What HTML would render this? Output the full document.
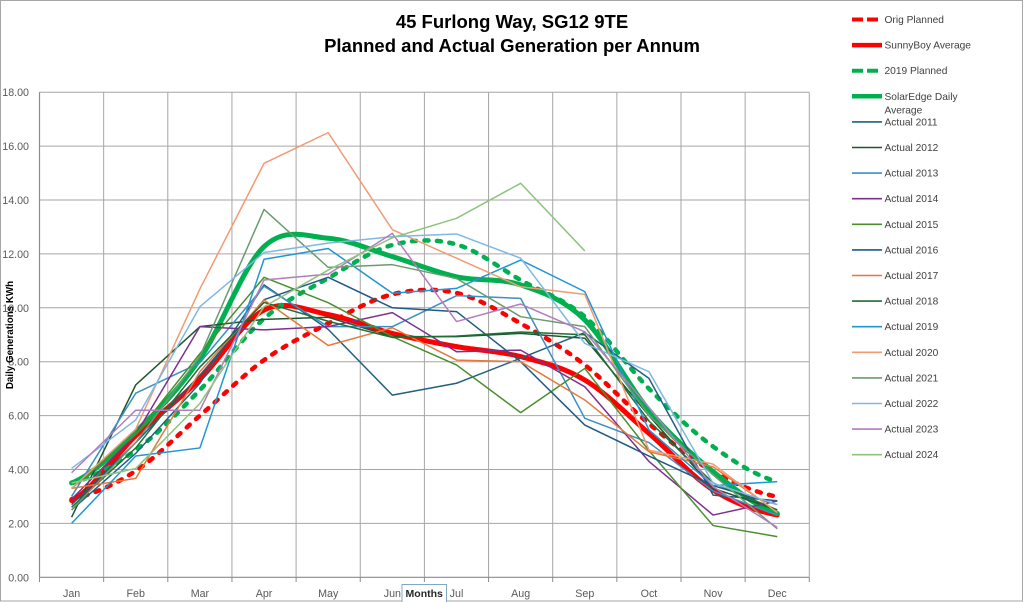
<!DOCTYPE html>
<html>
<head>
<meta charset="utf-8">
<style>
  html,body{margin:0;padding:0;background:#fff;}
  svg{display:block;}
  text{font-family:"Liberation Sans",Arial,sans-serif;}
</style>
</head>
<body>
<svg width="1024" height="602" viewBox="0 0 1024 602" xmlns="http://www.w3.org/2000/svg">
  <rect x="0" y="0" width="1024" height="602" fill="#fff"/>
  <rect x="0.5" y="0.5" width="1022" height="600.5" fill="none" stroke="#a6a6a6" stroke-width="1"/>

  <!-- Title -->
  <text x="512" y="28" text-anchor="middle" font-size="18.5" font-weight="bold" fill="#000">45 Furlong Way, SG12 9TE</text>
  <text x="512" y="52" text-anchor="middle" font-size="18.5" font-weight="bold" fill="#000">Planned and Actual Generation per Annum</text>

  <!-- Horizontal gridlines -->
  <g stroke="#a6a6a6" stroke-width="1">
    <line x1="39.5" x2="809.3" y1="523.4" y2="523.4"/>
    <line x1="39.5" x2="809.3" y1="469.5" y2="469.5"/>
    <line x1="39.5" x2="809.3" y1="415.6" y2="415.6"/>
    <line x1="39.5" x2="809.3" y1="361.7" y2="361.7"/>
    <line x1="39.5" x2="809.3" y1="307.8" y2="307.8"/>
    <line x1="39.5" x2="809.3" y1="253.9" y2="253.9"/>
    <line x1="39.5" x2="809.3" y1="200.0" y2="200.0"/>
    <line x1="39.5" x2="809.3" y1="146.1" y2="146.1"/>
    <line x1="39.5" x2="809.3" y1="92.2" y2="92.2"/>
  </g>
  <!-- Vertical gridlines -->
  <g stroke="#a6a6a6" stroke-width="1">
    <line x1="103.65" x2="103.65" y1="92.2" y2="577.3"/>
    <line x1="167.8" x2="167.8" y1="92.2" y2="577.3"/>
    <line x1="231.95" x2="231.95" y1="92.2" y2="577.3"/>
    <line x1="296.1" x2="296.1" y1="92.2" y2="577.3"/>
    <line x1="360.25" x2="360.25" y1="92.2" y2="577.3"/>
    <line x1="424.4" x2="424.4" y1="92.2" y2="577.3"/>
    <line x1="488.55" x2="488.55" y1="92.2" y2="577.3"/>
    <line x1="552.7" x2="552.7" y1="92.2" y2="577.3"/>
    <line x1="616.85" x2="616.85" y1="92.2" y2="577.3"/>
    <line x1="681.0" x2="681.0" y1="92.2" y2="577.3"/>
    <line x1="745.15" x2="745.15" y1="92.2" y2="577.3"/>
    <line x1="809.3" x2="809.3" y1="92.2" y2="577.3"/>
  </g>
  <!-- Axes -->
  <line x1="39.5" x2="39.5" y1="92.2" y2="577.3" stroke="#8c8c8c" stroke-width="1.2"/>
  <line x1="39.5" x2="809.3" y1="577.3" y2="577.3" stroke="#8c8c8c" stroke-width="1.2"/>
  <g stroke="#8c8c8c" stroke-width="1">
    <line x1="39.5" x2="39.5" y1="577.3" y2="582"/>
    <line x1="103.65" x2="103.65" y1="577.3" y2="582"/>
    <line x1="167.8" x2="167.8" y1="577.3" y2="582"/>
    <line x1="231.95" x2="231.95" y1="577.3" y2="582"/>
    <line x1="296.1" x2="296.1" y1="577.3" y2="582"/>
    <line x1="360.25" x2="360.25" y1="577.3" y2="582"/>
    <line x1="424.4" x2="424.4" y1="577.3" y2="582"/>
    <line x1="488.55" x2="488.55" y1="577.3" y2="582"/>
    <line x1="552.7" x2="552.7" y1="577.3" y2="582"/>
    <line x1="616.85" x2="616.85" y1="577.3" y2="582"/>
    <line x1="681.0" x2="681.0" y1="577.3" y2="582"/>
    <line x1="745.15" x2="745.15" y1="577.3" y2="582"/>
    <line x1="809.3" x2="809.3" y1="577.3" y2="582"/>
  </g>

  <!-- Y tick labels -->
  <g font-size="10.7" fill="#595959" text-anchor="end">
    <text x="29" y="581.3">0.00</text>
    <text x="29" y="527.4">2.00</text>
    <text x="29" y="473.5">4.00</text>
    <text x="29" y="419.6">6.00</text>
    <text x="29" y="365.7">8.00</text>
    <text x="29" y="311.8">10.00</text>
    <text x="29" y="257.9">12.00</text>
    <text x="29" y="204.0">14.00</text>
    <text x="29" y="150.1">16.00</text>
    <text x="29" y="96.2">18.00</text>
  </g>

  <!-- X labels -->
  <g font-size="10.7" fill="#595959" text-anchor="middle">
    <text x="71.6" y="597">Jan</text>
    <text x="135.75" y="597">Feb</text>
    <text x="199.9" y="597">Mar</text>
    <text x="264.05" y="597">Apr</text>
    <text x="328.2" y="597">May</text>
    <text x="392.35" y="597">Jun</text>
    <text x="456.5" y="597">Jul</text>
    <text x="520.65" y="597">Aug</text>
    <text x="584.8" y="597">Sep</text>
    <text x="648.95" y="597">Oct</text>
    <text x="713.1" y="597">Nov</text>
    <text x="777.25" y="597">Dec</text>
  </g>
  <!-- Months axis title box -->
  <rect x="402" y="584.5" width="44.5" height="18" fill="#fff" stroke="#7fa8c4" stroke-width="1"/>
  <text x="424.2" y="597" text-anchor="middle" font-size="10.5" font-weight="bold" fill="#262626">Months</text>

  <!-- Y axis title -->
  <text transform="translate(13,335) rotate(-90)" text-anchor="middle" font-size="9.8" font-weight="bold" fill="#000">Daily Generations KWh</text>

  <!-- Orig Planned (red dashed) -->
  <path d="M71.6,499.15 C92.98,494.43 114.37,484.78 135.75,470.85 C157.13,456.92 178.52,434.06 199.9,415.6 C221.28,397.14 242.67,375.44 264.05,360.08 C285.43,344.72 306.82,334.40 328.2,323.43 C349.58,312.46 370.97,299.39 392.35,294.32 C413.73,289.25 435.12,288.13 456.5,292.98 C477.88,297.83 499.27,311.44 520.65,323.43 C542.03,335.42 563.42,348.22 584.8,364.93 C606.18,381.64 627.57,405.89 648.95,423.68 C670.33,441.47 691.72,459.48 713.1,471.66 C734.48,483.84 755.87,492.54 777.25,496.72" fill="none" stroke="#ff0000" stroke-width="4.5" stroke-dasharray="4 8.5" stroke-linecap="round"/>

  <!-- SunnyBoy Average (red solid, smoothed) -->
  <g transform="translate(71.6 577.3) scale(64.15 -26.95)">
    <path vector-effect="non-scaling-stroke" d="M0,2.85 C0.333,3.25 0.667,4.5 1,5.25 C1.333,6.0 1.667,6.572 2,7.35 C2.333,8.128 2.667,9.52 3,9.92 C3.333,10.32 3.667,9.895 4,9.75 C4.333,9.605 4.667,9.248 5,9.05 C5.333,8.852 5.667,8.703 6,8.56 C6.333,8.417 6.667,8.397 7,8.19 C7.333,7.983 7.667,7.795 8,7.32 C8.333,6.845 8.667,6.02 9,5.34 C9.333,4.66 9.667,3.745 10,3.24 C10.333,2.735 10.667,2.465 11,2.31" fill="none" stroke="#ff0000" stroke-width="5" stroke-linecap="round"/>
  </g>

  <!-- 2019 Planned (green dashed) -->
  <path d="M71.6,482.97 C92.98,477.49 114.37,465.60 135.75,450.1 C157.13,434.60 178.52,411.92 199.9,390.0 C221.28,368.08 242.67,337.22 264.05,318.58 C285.43,299.94 306.82,290.41 328.2,278.15 C349.58,265.89 370.97,250.62 392.35,245.01 C413.73,239.40 435.12,238.63 456.5,244.47 C477.88,250.31 499.27,268.0 520.65,280.04 C542.03,292.08 563.42,298.59 584.8,316.69 C606.18,334.79 627.57,367.0 648.95,388.65 C670.33,410.30 691.72,431.09 713.1,446.59 C734.48,462.09 755.87,475.79 777.25,481.63" fill="none" stroke="#00b050" stroke-width="4.5" stroke-dasharray="4 8.5" stroke-linecap="round"/>

  <!-- SolarEdge Daily Average (green solid, smoothed) -->
  <g transform="translate(71.6 577.3) scale(64.15 -26.95)">
    <path vector-effect="non-scaling-stroke" d="M0,3.5 C0.333,3.817 0.667,4.633 1,5.4 C1.333,6.167 1.667,6.955 2,8.1 C2.333,9.245 2.667,11.523 3,12.27 C3.333,13.017 3.667,12.642 4,12.58 C4.333,12.518 4.667,12.138 5,11.9 C5.333,11.662 5.667,11.325 6,11.15 C6.333,10.975 6.667,11.117 7,10.85 C7.333,10.583 7.667,10.325 8,9.55 C8.333,8.775 8.667,7.138 9,6.2 C9.333,5.262 9.667,4.558 10,3.92 C10.333,3.282 10.667,2.628 11,2.37" fill="none" stroke="#00b050" stroke-width="5" stroke-linecap="round"/>
  </g>

  <!-- Actual series -->
  <g transform="translate(71.6 577.3) scale(64.15 -26.95)" fill="none" stroke-linejoin="round">
    <polyline vector-effect="non-scaling-stroke" stroke="#21607f" stroke-width="1.5" points="0,2.5 1,4.6 2,7.2 3,10.85 4,9.2 5,6.76 6,7.2 7,8.13 8,9.08 9,7.38 10,3.05 11,2.84"/>
    <polyline vector-effect="non-scaling-stroke" stroke="#1e5631" stroke-width="1.5" points="0,2.23 1,7.14 2,9.3 3,9.57 4,9.65 5,8.93 6,8.93 7,9.05 8,8.87 9,6.0 10,3.3 11,2.5"/>
    <polyline vector-effect="non-scaling-stroke" stroke="#3a8fc6" stroke-width="1.5" points="0,3.0 1,6.83 2,7.96 3,10.8 4,9.3 5,9.3 6,10.45 7,10.35 8,5.9 9,5.0 10,3.2 11,2.3"/>
    <polyline vector-effect="non-scaling-stroke" stroke="#7e2f8e" stroke-width="1.5" points="0,2.9 1,5.3 2,9.3 3,9.18 4,9.3 5,9.82 6,8.37 7,8.43 8,7.07 9,4.3 10,2.31 11,2.83"/>
    <polyline vector-effect="non-scaling-stroke" stroke="#4a8f2c" stroke-width="1.5" points="0,3.3 1,5.3 2,8.3 3,11.13 4,10.19 5,8.93 6,7.88 7,6.11 8,7.75 9,4.7 10,1.92 11,1.51"/>
    <polyline vector-effect="non-scaling-stroke" stroke="#1f5a85" stroke-width="1.5" points="0,2.7 1,5.0 2,7.5 3,10.3 4,11.13 5,10.0 6,9.86 7,8.0 8,5.65 9,4.5 10,3.4 11,2.7"/>
    <polyline vector-effect="non-scaling-stroke" stroke="#e5793b" stroke-width="1.5" points="0,3.3 1,3.67 2,7.63 3,10.29 4,8.6 5,9.26 6,8.06 7,8.0 8,6.58 9,4.66 10,4.1 11,2.43"/>
    <polyline vector-effect="non-scaling-stroke" stroke="#1f6e34" stroke-width="1.5" points="0,2.6 1,4.8 2,7.8 3,10.2 4,9.5 5,8.9 6,8.95 7,9.1 8,9.0 9,5.8 10,3.5 11,2.5"/>
    <polyline vector-effect="non-scaling-stroke" stroke="#1f97d4" stroke-width="1.5" points="0,2.0 1,4.5 2,4.8 3,11.8 4,12.2 5,10.54 6,10.72 7,11.77 8,10.6 9,5.47 10,3.4 11,3.55"/>
    <polyline vector-effect="non-scaling-stroke" stroke="#f49a72" stroke-width="1.5" points="0,3.3 1,5.5 2,10.7 3,15.36 4,16.5 5,12.9 6,11.84 7,10.78 8,10.5 9,4.72 10,4.2 11,2.4"/>
    <polyline vector-effect="non-scaling-stroke" stroke="#6b9b6f" stroke-width="1.5" points="0,2.5 1,5.0 2,8.2 3,13.65 4,11.5 5,11.6 6,11.09 7,9.67 8,9.3 9,6.0 10,3.8 11,1.8"/>
    <polyline vector-effect="non-scaling-stroke" stroke="#7fb8e3" stroke-width="1.5" points="0,4.04 1,5.84 2,10.04 3,12.05 4,12.4 5,12.64 6,12.74 7,11.84 8,8.68 9,7.63 10,3.49 11,2.7"/>
    <polyline vector-effect="non-scaling-stroke" stroke="#b47cbd" stroke-width="1.5" points="0,3.88 1,6.2 2,6.2 3,11.03 4,11.25 5,12.76 6,9.49 7,10.14 8,9.11 9,6.3 10,3.36 11,1.85"/>
    <polyline vector-effect="non-scaling-stroke" stroke="#8dc47d" stroke-width="1.5" points="0,3.5 1,4.04 2,6.45 3,10.04 4,11.4 5,12.6 6,13.32 7,14.62 8,12.11"/>
  </g>

  <!-- Legend -->
  <g font-size="10.2" fill="#404040">
    <line x1="852" x2="878" y1="19.5" y2="19.5" stroke="#ff0000" stroke-width="4" stroke-dasharray="11 4"/>
    <text x="884.5" y="23">Orig Planned</text>

    <line x1="852" x2="882" y1="45.1" y2="45.1" stroke="#ff0000" stroke-width="4.5"/>
    <text x="884.5" y="48.6">SunnyBoy Average</text>

    <line x1="852" x2="878" y1="70.7" y2="70.7" stroke="#00b050" stroke-width="4" stroke-dasharray="11 4"/>
    <text x="884.5" y="74.2">2019 Planned</text>

    <line x1="852" x2="882" y1="96.3" y2="96.3" stroke="#00b050" stroke-width="4.5"/>
    <text x="884.5" y="99.8">SolarEdge Daily</text>
    <text x="884.5" y="113.5">Average</text>

    <line x1="852" x2="882" y1="121.9" y2="121.9" stroke="#21607f" stroke-width="1.6"/>
    <text x="884.5" y="125.4">Actual 2011</text>
    <line x1="852" x2="882" y1="147.5" y2="147.5" stroke="#1e5631" stroke-width="1.6"/>
    <text x="884.5" y="151">Actual 2012</text>
    <line x1="852" x2="882" y1="173.1" y2="173.1" stroke="#3a8fc6" stroke-width="1.6"/>
    <text x="884.5" y="176.6">Actual 2013</text>
    <line x1="852" x2="882" y1="198.7" y2="198.7" stroke="#7e2f8e" stroke-width="1.6"/>
    <text x="884.5" y="202.2">Actual 2014</text>
    <line x1="852" x2="882" y1="224.3" y2="224.3" stroke="#4a8f2c" stroke-width="1.6"/>
    <text x="884.5" y="227.8">Actual 2015</text>
    <line x1="852" x2="882" y1="249.9" y2="249.9" stroke="#1f5a85" stroke-width="1.6"/>
    <text x="884.5" y="253.4">Actual 2016</text>
    <line x1="852" x2="882" y1="275.5" y2="275.5" stroke="#e5793b" stroke-width="1.6"/>
    <text x="884.5" y="279">Actual 2017</text>
    <line x1="852" x2="882" y1="301.1" y2="301.1" stroke="#1f6e34" stroke-width="1.6"/>
    <text x="884.5" y="304.6">Actual 2018</text>
    <line x1="852" x2="882" y1="326.7" y2="326.7" stroke="#1f97d4" stroke-width="1.6"/>
    <text x="884.5" y="330.2">Actual 2019</text>
    <line x1="852" x2="882" y1="352.3" y2="352.3" stroke="#f49a72" stroke-width="1.6"/>
    <text x="884.5" y="355.8">Actual 2020</text>
    <line x1="852" x2="882" y1="377.9" y2="377.9" stroke="#6b9b6f" stroke-width="1.6"/>
    <text x="884.5" y="381.4">Actual 2021</text>
    <line x1="852" x2="882" y1="403.5" y2="403.5" stroke="#7fb8e3" stroke-width="1.6"/>
    <text x="884.5" y="407">Actual 2022</text>
    <line x1="852" x2="882" y1="429.1" y2="429.1" stroke="#b47cbd" stroke-width="1.6"/>
    <text x="884.5" y="432.6">Actual 2023</text>
    <line x1="852" x2="882" y1="454.7" y2="454.7" stroke="#8dc47d" stroke-width="1.6"/>
    <text x="884.5" y="458.2">Actual 2024</text>
  </g>
</svg>
</body>
</html>
